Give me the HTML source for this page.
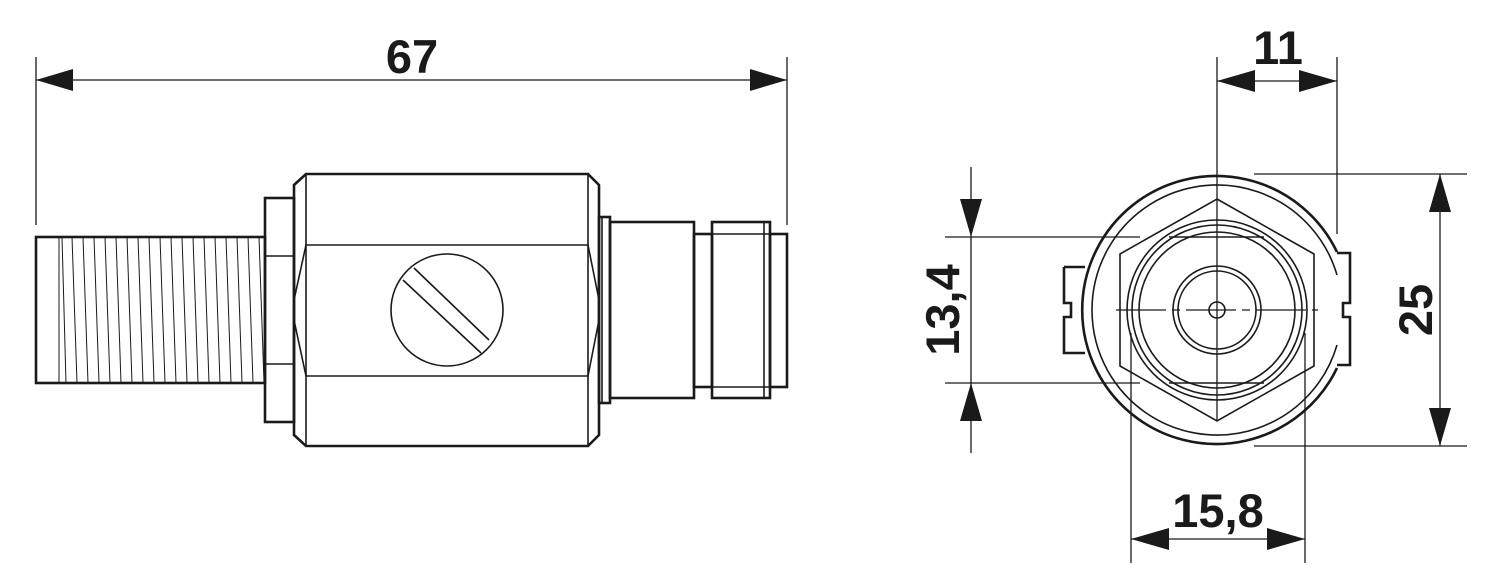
<!DOCTYPE html>
<html><head><meta charset="utf-8"><style>
html,body{margin:0;padding:0;background:#fff}
svg{display:block}
text{font-family:"Liberation Sans",sans-serif;font-weight:bold;fill:#1a1a1a}
</style></head><body>
<svg width="1500" height="586" viewBox="0 0 1500 586" xmlns="http://www.w3.org/2000/svg">
<g stroke="#1a1a1a" fill="none" stroke-linejoin="miter">
<g stroke-width="1.3">
<line x1="36" y1="57" x2="36" y2="225"/>
<line x1="787" y1="57" x2="787" y2="225"/>
<line x1="36" y1="80" x2="787" y2="80"/>
</g>
<g stroke-width="2.6">
<rect x="36" y="237" width="229" height="146"/>
</g>
<g stroke-width="1">
<line x1="59" y1="237" x2="59" y2="383"/>
<line x1="62" y1="237" x2="66" y2="383"/><line x1="72" y1="237" x2="77" y2="383"/><line x1="83" y1="237" x2="88" y2="383"/><line x1="94" y1="237" x2="99" y2="383"/><line x1="105" y1="237" x2="110" y2="383"/><line x1="116" y1="237" x2="121" y2="383"/><line x1="127" y1="237" x2="132" y2="383"/><line x1="138" y1="237" x2="143" y2="383"/><line x1="149" y1="237" x2="154" y2="383"/><line x1="160" y1="237" x2="165" y2="383"/><line x1="171" y1="237" x2="176" y2="383"/><line x1="182" y1="237" x2="187" y2="383"/><line x1="193" y1="237" x2="198" y2="383"/><line x1="204" y1="237" x2="209" y2="383"/><line x1="215" y1="237" x2="220" y2="383"/><line x1="226" y1="237" x2="231" y2="383"/><line x1="237" y1="237" x2="242" y2="383"/><line x1="248" y1="237" x2="253" y2="383"/><line x1="259" y1="237" x2="264" y2="383"/>
</g>
<g stroke-width="2.6">
<rect x="265" y="198" width="29" height="224"/>
<path d="M306 174 L588 174 L599 185 L599 435 L588 446 L306 446 L294 435 L294 185 Z"/>
<rect x="599" y="217" width="11" height="186"/>
<rect x="610" y="222" width="84" height="176"/>
<rect x="694" y="234" width="18" height="153"/>
<rect x="712" y="222" width="58" height="176"/>
<rect x="770" y="234" width="17" height="153"/>
</g>
<g stroke-width="1.6">
<line x1="265" y1="256" x2="294" y2="256"/>
<line x1="265" y1="364" x2="294" y2="364"/>
<line x1="306" y1="174" x2="306" y2="446"/>
<line x1="588" y1="174" x2="588" y2="446"/>
<path d="M294 300 L306 245 L588 245 L599 300"/>
<path d="M294 320 L306 376 L588 376 L599 320"/>
<line x1="602" y1="217" x2="602" y2="403"/>
<line x1="712" y1="234" x2="770" y2="234"/>
<line x1="712" y1="387" x2="770" y2="387"/>
<line x1="764" y1="222" x2="764" y2="398"/>
<circle cx="447" cy="310" r="56"/>
<line x1="414" y1="268" x2="489" y2="340"/>
<line x1="403" y1="280" x2="481" y2="353"/>
</g>

<g stroke-width="1.3">
<line x1="1217" y1="57" x2="1217" y2="420"/>
<line x1="1337" y1="57" x2="1337" y2="234"/>
<line x1="1217" y1="81" x2="1337" y2="81"/>
<line x1="1254" y1="174" x2="1467" y2="174"/>
<line x1="1254" y1="446" x2="1467" y2="446"/>
<line x1="1440" y1="174" x2="1440" y2="446"/>
<line x1="945" y1="237" x2="1140" y2="237"/>
<line x1="945" y1="383" x2="1140" y2="383"/>
<line x1="971" y1="167" x2="971" y2="453"/>
<line x1="1131" y1="333" x2="1131" y2="563"/>
<line x1="1305" y1="333" x2="1305" y2="563"/>
<line x1="1131" y1="539" x2="1305" y2="539"/>
<line x1="1116" y1="310" x2="1318" y2="310" stroke-dasharray="50 6 8 6"/>
</g>
<g stroke-width="2.6">
<path d="M1337 252 A134 134 0 1 0 1337 368"/>
<path d="M1064 267 L1085 267 M1064 267 L1064 303 L1071 303 L1071 317 L1064 317 L1064 353 L1085 353"/>
<path d="M1337 253 L1350 253 L1350 303 L1343 303 L1343 317 L1350 317 L1350 365 L1337 365"/>
</g>
<g stroke-width="1.6">
<path d="M1337 275 A125 125 0 1 0 1337 345"/>
<path d="M1217 199 L1314 254 L1314 366 L1217 421 L1120 366 L1120 254 Z"/>
<path d="M1169 237 L1264 237 M1169 383 L1264 383"/>
<circle cx="1217" cy="310" r="90"/>
<circle cx="1217" cy="310" r="85"/>
<circle cx="1217" cy="310" r="78"/>
<circle cx="1217" cy="310" r="44"/>
<circle cx="1217" cy="310" r="39"/>
<circle cx="1217" cy="310" r="8"/>
</g>
</g>
<g fill="#1a1a1a">
<polygon points="36,80 73,69 73,91"/>
<polygon points="787,80 750,69 750,91"/>
<polygon points="1217,81 1255,70 1255,92"/>
<polygon points="1337,81 1299,70 1299,92"/>
<polygon points="1440,174 1429,212 1451,212"/>
<polygon points="1440,446 1429,408 1451,408"/>
<polygon points="971,237 960,199 982,199"/>
<polygon points="971,383 960,421 982,421"/>
<polygon points="1131,539 1169,528 1169,550"/>
<polygon points="1305,539 1267,528 1267,550"/>
</g>
<text x="412" y="73" font-size="47" text-anchor="middle">67</text>
<text x="1278" y="64" font-size="47" text-anchor="middle">11</text>
<text x="1218" y="527" font-size="47" text-anchor="middle">15,8</text>
<text x="0" y="0" font-size="47" text-anchor="middle" transform="translate(1432,310) rotate(-90)">25</text>
<text x="0" y="0" font-size="47" text-anchor="middle" transform="translate(959,310) rotate(-90)">13,4</text>
</svg>
</body></html>
